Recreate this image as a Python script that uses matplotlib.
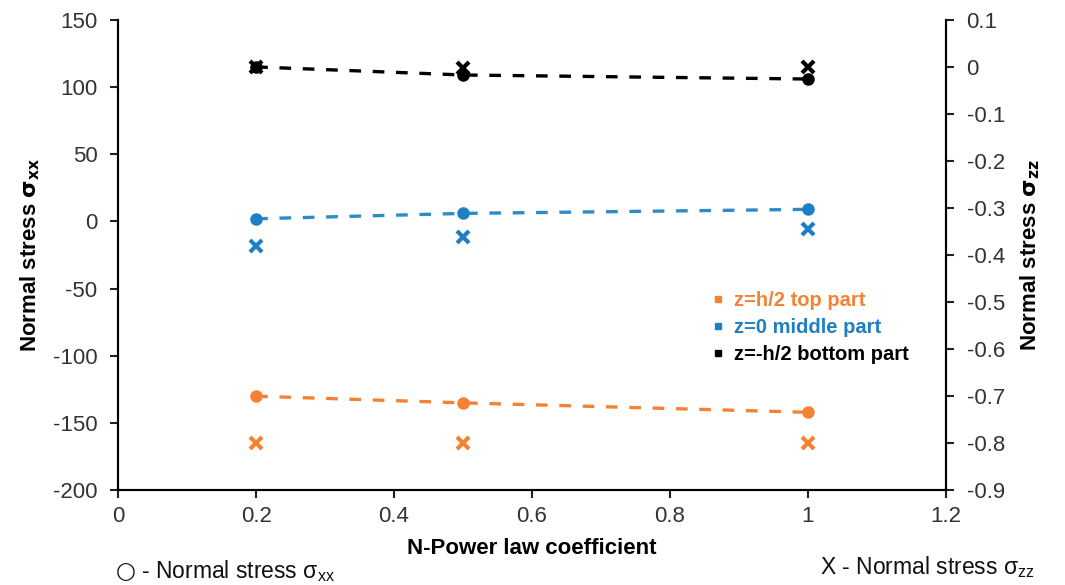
import numpy as np
import matplotlib.pyplot as plt

plt.rcParams['font.family'] = ['Liberation Sans', 'DejaVu Sans']
plt.rcParams['axes.unicode_minus'] = False

# N-power law coefficient
n_coef = [0.2, 0.5, 1.0]

# normal stress sigma_xx (left axis)
sxx_top = [-130, -135, -142]
sxx_mid = [2, 6, 9]
sxx_bot = [115, 109, 106]

# normal stress sigma_zz (right axis)
szz_top = [-0.80, -0.80, -0.80]
szz_mid = [-0.38, -0.362, -0.345]
szz_bot = [0.0, -0.002, -0.001]

labels = ['z=h/2 top part', 'z=0 middle part', 'z=-h/2 bottom part']
colors = ['#F58233', '#1F7FC4', '#000000']
line_colors = ['#F58233', '#2E8BC8', '#000000']

fig = plt.figure(figsize=(10.65, 5.85), dpi=100)
ax = fig.add_axes([0.111, 0.162, 0.777, 0.804])
ax2 = ax.twinx()

for sxx, szz, c, lc in zip([sxx_top, sxx_mid, sxx_bot], [szz_top, szz_mid, szz_bot], colors, line_colors):
    ax.plot(n_coef, sxx, color=lc, ls=(0, (3.5, 3.5)), lw=2.4, zorder=2)
    ax.plot(n_coef, sxx, 'o', color=c, ms=8, zorder=3)
    ax2.plot(n_coef, szz, 'x', color=c, ms=9, mew=3, zorder=3)

ax.set_xlim(0, 1.2)
ax.set_ylim(-200, 150)
ax2.set_ylim(-0.9, 0.1)
ax.set_xticks(np.arange(0, 1.21, 0.2))
ax.set_xticklabels(['0', '0.2', '0.4', '0.6', '0.8', '1', '1.2'])
ax.set_yticks(np.arange(-200, 151, 50))
zz_ticks = np.round(np.arange(-0.9, 0.11, 0.1), 1) + 0.0
ax2.set_yticks(zz_ticks)
ax2.set_yticklabels([f'{v:g}' for v in zz_ticks])

for a in (ax, ax2):
    a.spines['top'].set_visible(False)
    for s in a.spines.values():
        s.set_linewidth(1.5)
    a.tick_params(labelsize=16, width=1.5, length=6, direction='out', colors='#222222')
    a.tick_params(axis='y', labelcolor='#333333', pad=9)
ax.tick_params(axis='x', labelcolor='#333333', pad=5)

ax.set_xlabel('N-Power law coefficient', fontsize=16, fontweight='bold', labelpad=8)
ax.set_ylabel(r'Normal stress $\mathbf{\sigma_{xx}}$', fontsize=16, fontweight='bold', labelpad=8)
ax2.set_ylabel(r'Normal stress $\mathbf{\sigma_{zz}}$', fontsize=16, fontweight='bold', labelpad=10)

# legend built from coloured square markers and coloured bold text
handles = [plt.Line2D([], [], marker='s', ls='none', color=c, ms=5) for c in colors]
leg = ax2.legend(handles, labels, loc='upper left', bbox_to_anchor=(0.705, 0.445),
                 frameon=False, fontsize=14.5, handlelength=0.6, handletextpad=0.5,
                 labelspacing=0.4, borderpad=0)
for t, c in zip(leg.get_texts(), colors):
    t.set_color(c)
    t.set_fontweight('bold')

fig.text(0.108, 0.012, r'$\bigcirc$ - Normal stress $\mathregular{\sigma_{xx}}$', fontsize=16.5, color='#111111')
fig.text(0.77, 0.018, r'X - Normal stress $\mathregular{\sigma_{zz}}$', fontsize=16.5, color='#111111')

fig.savefig('out.png', dpi=100)
